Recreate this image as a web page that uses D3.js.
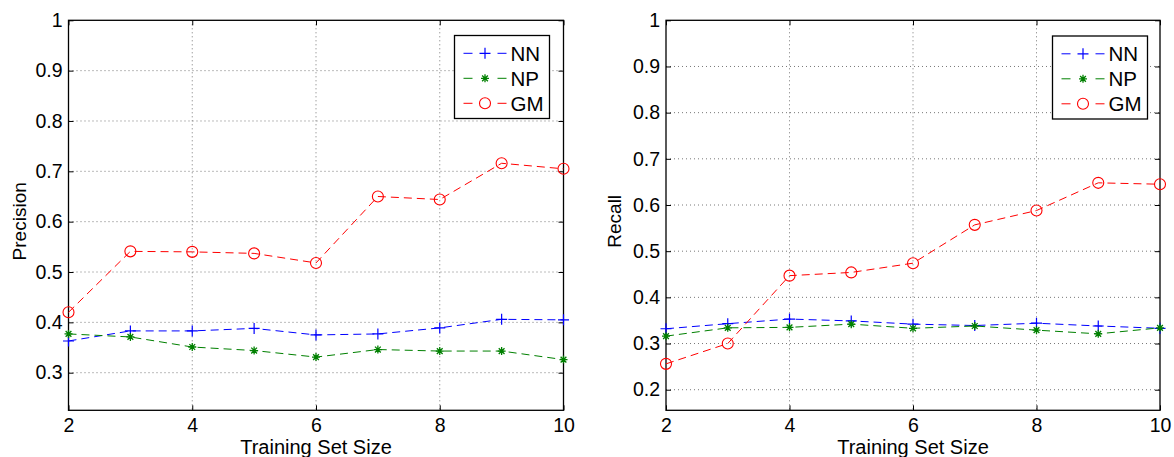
<!DOCTYPE html>
<html><head><meta charset="utf-8">
<script src="https://cdn.jsdelivr.net/npm/d3@7"></script>
<style>
body{margin:0;background:#fff;}
text{font-family:"Liberation Sans",Arial,Helvetica,sans-serif;fill:#000;}
</style></head>
<body><svg id="c" width="1174" height="457"></svg>
<script>
const trainingSizes = [2,3,4,5,6,7,8,9,10];
const xTicks = [2,4,6,8,10];
const precisionNN = [0.363,0.383,0.383,0.388,0.375,0.377,0.389,0.406,0.405];
const precisionNP = [0.377,0.371,0.351,0.344,0.331,0.346,0.343,0.343,0.326];
const precisionGM = [0.420,0.541,0.540,0.537,0.518,0.650,0.644,0.716,0.705];
const recallNN = [0.332,0.343,0.353,0.349,0.342,0.339,0.344,0.338,0.333];
const recallNP = [0.316,0.334,0.335,0.342,0.333,0.338,0.329,0.321,0.334];
const recallGM = [0.256,0.300,0.447,0.454,0.474,0.557,0.588,0.648,0.645];
const precisionTicks = [0.3,0.4,0.5,0.6,0.7,0.8,0.9,1];
const recallTicks = [0.2,0.3,0.4,0.5,0.6,0.7,0.8,0.9,1];
const seriesNames = ["NN","NP","GM"];
const seriesColors = ["#0000ff","#008000","#ff0000"];
const seriesMarkers = ["plus","star","circle"];

const svg = d3.select("#c");

function marker(g, type, color, x, y){
  if(type==="plus"){
    g.append("path").attr("d",`M${x-5.5},${y}H${x+5.5}M${x},${y-5.5}V${y+5.5}`)
     .attr("stroke",color).attr("stroke-width",1.2).attr("fill","none");
  } else if(type==="star"){
    const r=4;
    let d=`M${x-r},${y}H${x+r}M${x},${y-r}V${y+r}`;
    const a=r*0.72;
    d+=`M${x-a},${y-a}L${x+a},${y+a}M${x-a},${y+a}L${x+a},${y-a}`;
    g.append("path").attr("d",d).attr("stroke",color).attr("stroke-width",1.3).attr("fill","none");
  } else {
    g.append("circle").attr("cx",x).attr("cy",y).attr("r",5.5)
     .attr("stroke",color).attr("stroke-width",1.1).attr("fill","none");
  }
}

function panel(opts){
  const {left,right,top,bottom,yDomain,yTicks,yLabel,labelOffset,series,legend} = opts;
  const x = d3.scaleLinear().domain([2,10]).range([left,right]);
  const y = d3.scaleLinear().domain(yDomain).range([bottom,top]);
  const g = svg.append("g");
  // grid
  xTicks.forEach(t=>{
    if(t===2||t===10) return;
    g.append("line").attr("x1",x(t)).attr("x2",x(t)).attr("y1",top).attr("y2",bottom)
     .attr("stroke","#555").attr("stroke-width",0.8).attr("stroke-dasharray","1,3");
  });
  yTicks.forEach(t=>{
    if(t===1) return;
    g.append("line").attr("x1",left).attr("x2",right).attr("y1",y(t)).attr("y2",y(t))
     .attr("stroke","#555").attr("stroke-width",0.8).attr("stroke-dasharray","1,3");
  });
  // axes
  const ax = g.append("g").attr("transform",`translate(0,${bottom})`)
    .call(d3.axisBottom(x).tickValues(xTicks).tickSize(-5).tickPadding(8).tickFormat(d3.format("d")));
  const axTop = g.append("g").attr("transform",`translate(0,${top})`)
    .call(d3.axisTop(x).tickValues(xTicks).tickSize(-5).tickFormat(""));
  const ay = g.append("g").attr("transform",`translate(${left},0)`)
    .call(d3.axisLeft(y).tickValues(yTicks).tickSize(-5).tickPadding(6).tickFormat(d=>d===1?"1":d3.format(".1f")(d)));
  const ayR = g.append("g").attr("transform",`translate(${right},0)`)
    .call(d3.axisRight(y).tickValues(yTicks).tickSize(-5).tickFormat(""));
  [ax,axTop,ay,ayR].forEach(a=>{
    a.select(".domain").remove();
    a.selectAll("line").attr("stroke","#000").attr("stroke-width",1);
    a.selectAll("text").style("font-size","19.5px").attr("fill","#000");
  });
  ax.selectAll("text").attr("dy","0.71em");
  g.append("rect").attr("x",left).attr("y",top).attr("width",right-left).attr("height",bottom-top)
   .attr("fill","none").attr("stroke","#000").attr("stroke-width",1.3);
  // labels
  g.append("text").attr("x",(left+right)/2).attr("y",454).attr("text-anchor","middle")
   .style("font-size","20px").text("Training Set Size");
  g.append("text").attr("transform",`translate(${left-labelOffset},${(top+bottom)/2+6}) rotate(-90)`)
   .attr("text-anchor","middle").style("font-size","19px").text(yLabel);
  // series
  const line = d3.line().x((d,i)=>x(trainingSizes[i])).y(d=>y(d));
  series.forEach((vals,k)=>{
    g.append("path").attr("d",line(vals)).attr("fill","none")
     .attr("stroke",seriesColors[k]).attr("stroke-width",1).attr("stroke-dasharray","8,5");
    vals.forEach((v,i)=>marker(g,seriesMarkers[k],seriesColors[k],x(trainingSizes[i]),y(v)));
  });
  // legend
  const lg = g.append("g");
  lg.append("rect").attr("x",legend.x).attr("y",legend.y).attr("width",95).attr("height",83)
    .attr("fill","#fff").attr("stroke","#000").attr("stroke-width",1.3);
  seriesNames.forEach((n,k)=>{
    const ry = legend.y + 17.8 + k*25;
    lg.append("line").attr("x1",legend.x+9).attr("x2",legend.x+52).attr("y1",ry).attr("y2",ry)
      .attr("stroke",seriesColors[k]).attr("stroke-width",1).attr("stroke-dasharray","9,25");
    marker(lg,seriesMarkers[k],seriesColors[k],legend.x+30.5,ry);
    lg.append("text").attr("x",legend.x+56).attr("y",ry+7.5).style("font-size","20.5px").text(n);
  });
}

panel({left:68.5,right:563.5,top:20.3,bottom:410.3,yDomain:[0.2253,1],yTicks:precisionTicks,
  yLabel:"Precision",labelOffset:43,series:[precisionNN,precisionNP,precisionGM],legend:{x:454.5,y:35.5}});
panel({left:666,right:1160,top:20.3,bottom:410.3,yDomain:[0.1554,1],yTicks:recallTicks,
  yLabel:"Recall",labelOffset:45,series:[recallNN,recallNP,recallGM],legend:{x:1052.5,y:36}});
</script></body></html>
